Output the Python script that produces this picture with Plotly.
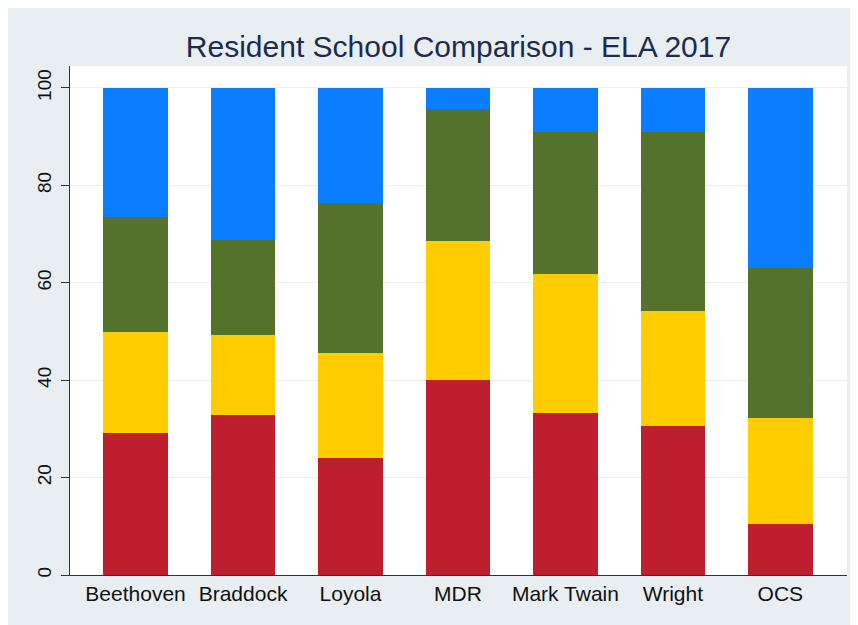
import plotly.graph_objects as go

schools = ["Beethoven", "Braddock", "Loyola", "MDR", "Mark Twain", "Wright", "OCS"]
level1 = [29.2, 32.9, 24.0, 40.0, 33.3, 30.6, 10.5]
level2 = [20.7, 16.4, 21.6, 28.6, 28.5, 23.6, 21.7]
level3 = [23.6, 19.5, 30.8, 27.1, 29.2, 36.8, 30.8]
level4 = [26.5, 31.2, 23.6, 4.3, 9.0, 9.0, 37.0]
series_names = ["Level 1", "Level 2", "Level 3", "Level 4"]
colors = ["#BE1E2D", "#FFCD00", "#55722C", "#0A7EFF"]
y_ticks = [0, 20, 40, 60, 80, 100]

fig = go.Figure()
for name, vals, col in zip(series_names, [level1, level2, level3, level4], colors):
    fig.add_trace(go.Bar(x=schools, y=vals, name=name, marker=dict(color=col, line=dict(width=0)),
                         width=0.6))

W, H = 850, 617
fig.update_layout(
    barmode="stack",
    width=W, height=H,
    paper_bgcolor="#E8EEF1",
    plot_bgcolor="white",
    showlegend=False,
    margin=dict(l=62, r=11, t=58, b=50),
    title=dict(text="Resident School Comparison - ELA 2017", x=0.5, xanchor="center",
               xref="paper", y=1 - 38 / H, yanchor="middle",
               font=dict(family="Liberation Sans", size=30, color="#1C2B4E")),
    font=dict(family="Liberation Sans", color="#111111"),
)
fig.update_xaxes(range=[-0.61, 6.62], showline=True, linecolor="#333333", linewidth=1,
                 ticks="", tickfont=dict(size=21, color="#111111"), showgrid=False)
fig.update_yaxes(range=[0, 104.5], tickvals=y_ticks, showline=True, linecolor="#333333",
                 linewidth=1, ticks="outside", ticklen=8, tickcolor="#333333",
                 tickangle=-90, tickfont=dict(size=19, color="#111111"),
                 ticklabelstandoff=2,
                 showgrid=True, gridcolor="#E8EEF1", gridwidth=1, zeroline=False)

fig.write_html("out.html")
